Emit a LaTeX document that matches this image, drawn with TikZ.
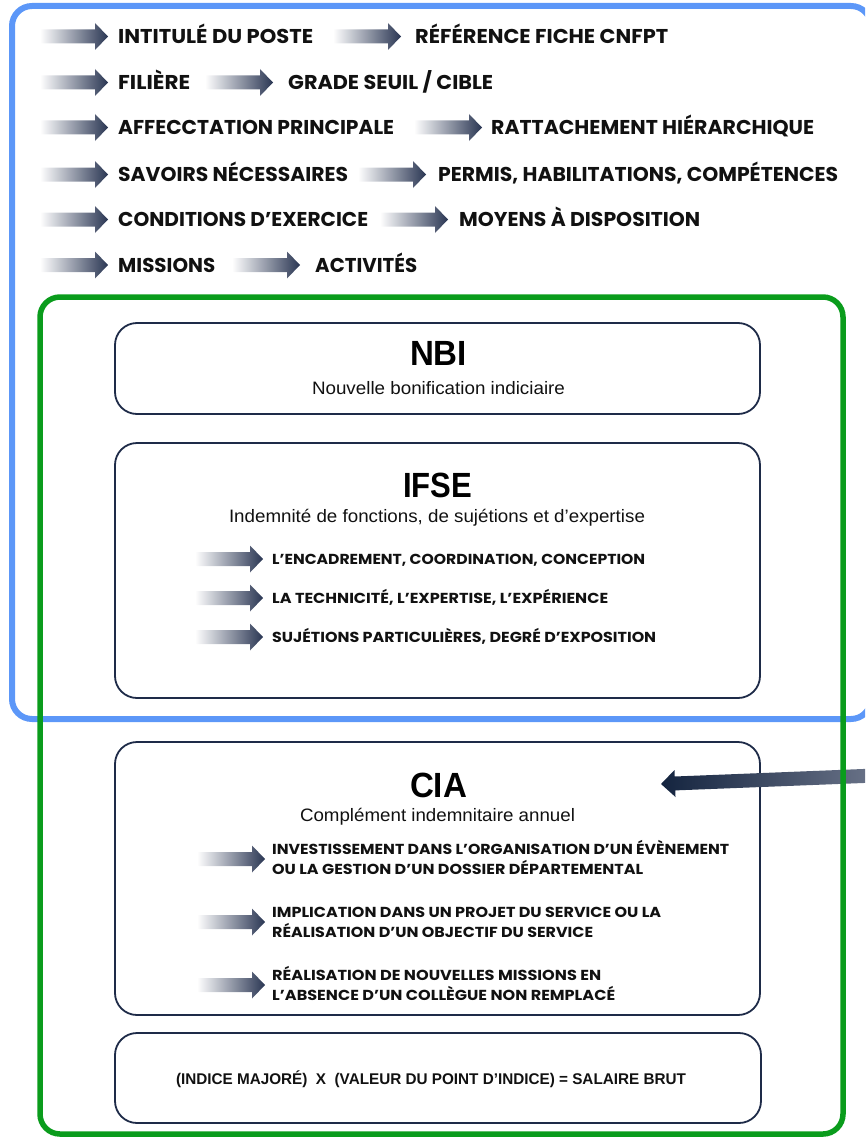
\documentclass[tikz,border=0pt]{standalone}
\usepackage{fontspec}
\usepackage{graphicx}
\setmainfont{Liberation Sans}
\newfontfamily\popf{Poppins}
\definecolor{frameblue}{HTML}{5C97F8}
\definecolor{framegreen}{HTML}{0A9C1C}
\definecolor{boxnavy}{HTML}{1E2B48}
\definecolor{arrnavy}{HTML}{2A3653}
\definecolor{ciatip}{HTML}{14243F}
\definecolor{ciaend}{HTML}{6B7489}
\definecolor{txt}{HTML}{111111}
\newlength\fitlen
\newcommand\fitt[2]{\settowidth\fitlen{#2}\pgfmathsetmacro\fitsx{#1/\fitlen}\scalebox{\fitsx}[1]{#2}}
\newcommand\garr[2]{\shade[left color=white, right color=arrnavy]
  (#1,{#2-7}) -- ({#1+55},{#2-7}) -- ({#1+55},{#2-13.5}) -- ({#1+68},#2)
  -- ({#1+55},{#2+13.5}) -- ({#1+55},{#2+7}) -- (#1,{#2+7}) -- cycle;}
\tikzset{
  rowtxt/.style={anchor=base west, inner sep=0pt, text=txt, font=\popf\bfseries\fontsize{20}{24}\selectfont},
  bultxt/.style={anchor=base west, inner sep=0pt, text=txt, font=\popf\bfseries\fontsize{14.5}{17}\selectfont},
  titletxt/.style={anchor=base, inner sep=0pt, text=black, font=\bfseries\fontsize{35}{40}\selectfont},
  subtxt/.style={anchor=base, inner sep=0pt, text=txt, font=\fontsize{18}{22}\selectfont},
  formtxt/.style={anchor=base, inner sep=0pt, text=txt, font=\bfseries\fontsize{15.5}{18}\selectfont},
  ibox/.style={draw=boxnavy, line width=1.8pt, rounded corners=22pt, inner sep=0pt, fill=none},
}
\begin{document}
\begin{tikzpicture}[x=1pt,y=-1pt]
\useasboundingbox (0,0) rectangle (865,1137);
\clip (0,0) rectangle (865,1137);
% blue frame
\draw[frameblue, line width=6pt, rounded corners=20pt] (12,6) rectangle (871,719);
% inner boxes
\node[ibox, minimum width=645pt, minimum height=91pt] (nbibox) at (437.5,368.5) {};
\node[ibox, minimum width=645pt, minimum height=255pt] (ifsebox) at (437.5,570.5) {};
\node[ibox, minimum width=645pt, minimum height=273pt] (ciabox) at (437.5,878.5) {};
\node[ibox, minimum width=646pt, minimum height=90pt] (formbox) at (438,1078) {};
% top rows
\garr{40}{36.5}  \node[rowtxt] (r1a) at (118,43.5) {\fitt{195}{INTITULÉ DU POSTE}};
\garr{333}{36.5} \node[rowtxt] (r1b) at (415,43.5) {\fitt{253}{RÉFÉRENCE FICHE CNFPT}};
\garr{40}{82.5}  \node[rowtxt] (r2a) at (118,89.5) {\fitt{72}{FILIÈRE}};
\garr{205}{82.5} \node[rowtxt] (r2b) at (288,89.5) {\fitt{205}{GRADE SEUIL / CIBLE}};
\garr{40}{127.5} \node[rowtxt] (r3a) at (118,134.5) {\fitt{276}{AFFECCTATION PRINCIPALE}};
\garr{414}{127.5}\node[rowtxt] (r3b) at (491,134.5) {\fitt{323}{RATTACHEMENT HIÉRARCHIQUE}};
\garr{40}{174.5} \node[rowtxt] (r4a) at (118,181.5) {\fitt{230}{SAVOIRS NÉCESSAIRES}};
\garr{358}{174.5}\node[rowtxt] (r4b) at (438,181.5) {\fitt{400}{PERMIS, HABILITATIONS, COMPÉTENCES}};
\garr{40}{219.5} \node[rowtxt] (r5a) at (118,226.5) {\fitt{250}{CONDITIONS D’EXERCICE}};
\garr{380}{219.5}\node[rowtxt] (r5b) at (459,226.5) {\fitt{241}{MOYENS À DISPOSITION}};
\garr{40}{265}   \node[rowtxt] (r6a) at (118,272) {\fitt{97}{MISSIONS}};
\garr{232}{265}  \node[rowtxt] (r6b) at (315,272) {\fitt{102}{ACTIVITÉS}};
% NBI
\node[titletxt] (nbit) at (438.5,365.5) {\fitt{57}{NBI}};
\node[subtxt] (nbis) at (438.5,394) {\fitt{253}{Nouvelle bonification indiciaire}};
% IFSE
\node[titletxt] (ifset) at (437.5,497) {\fitt{69}{IFSE}};
\node[subtxt] (ifses) at (437,522) {\fitt{416}{Indemnité de fonctions, de sujétions et d’expertise}};
\garr{195}{559}  \node[bultxt] (i1) at (272,564) {\fitt{373}{L’ENCADREMENT, COORDINATION, CONCEPTION}};
\garr{195}{598}  \node[bultxt] (i2) at (272,603) {\fitt{336}{LA TECHNICITÉ, L’EXPERTISE, L’EXPÉRIENCE}};
\garr{195}{637}  \node[bultxt] (i3) at (272,642) {\fitt{384}{SUJÉTIONS PARTICULIÈRES, DEGRÉ D’EXPOSITION}};
% CIA
\node[titletxt] (ciat) at (438.5,797) {\fitt{57}{CIA}};
\node[subtxt] (cias) at (437.5,821) {\fitt{275}{Complément indemnitaire annuel}};
\garr{197}{859}  \node[bultxt] (c1a) at (272,854.5) {\fitt{457}{INVESTISSEMENT DANS L’ORGANISATION D’UN ÉVÈNEMENT}};
                 \node[bultxt] (c1b) at (272,874.5) {\fitt{371}{OU LA GESTION D’UN DOSSIER DÉPARTEMENTAL}};
\garr{197}{922}  \node[bultxt] (c2a) at (272,917.5) {\fitt{389}{IMPLICATION DANS UN PROJET DU SERVICE OU LA}};
                 \node[bultxt] (c2b) at (272,937.5) {\fitt{321}{RÉALISATION D’UN OBJECTIF DU SERVICE}};
\garr{197}{985}  \node[bultxt] (c3a) at (272,980) {\fitt{329}{RÉALISATION DE NOUVELLES MISSIONS EN}};
                 \node[bultxt] (c3b) at (272,1000) {\fitt{343}{L’ABSENCE D’UN COLLÈGUE NON REMPLACÉ}};
% formula
\node[formtxt] (form) at (431,1084.5) {\fitt{510}{(INDICE MAJORÉ)\ \ X\ \ (VALEUR DU POINT D’INDICE) = SALAIRE BRUT}};
% CIA pointer arrow
\coordinate (ciatipc) at (661,784);
\shade[left color=ciatip, right color=ciaend]
  (ciatipc) -- (674.5,770) -- (674.7,776.5) -- (875.5,768.5) -- (876.1,782.5)
  -- (675.3,790.4) -- (675.5,797) -- cycle;
% green frame
\draw[framegreen, line width=5.5pt, rounded corners=20pt] (40,297) rectangle (843,1134);
\end{tikzpicture}
\end{document}
